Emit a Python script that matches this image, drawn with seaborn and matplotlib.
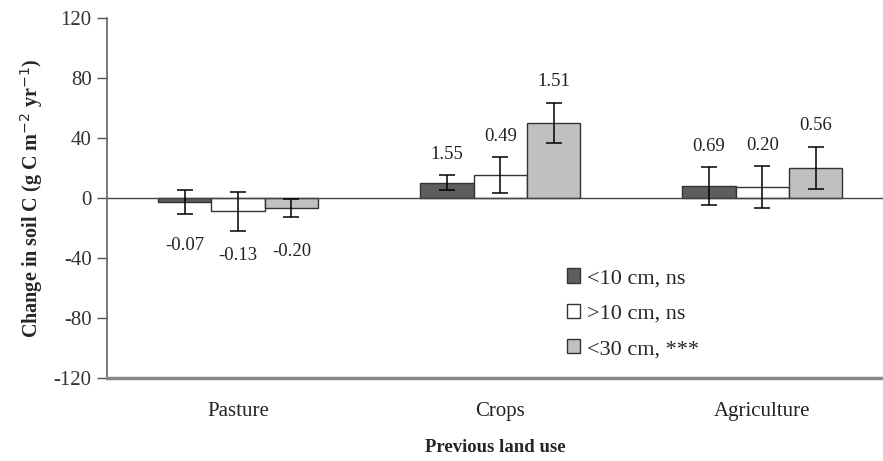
import matplotlib
matplotlib.use("Agg")
import matplotlib.pyplot as plt
import seaborn as sns
import pandas as pd
from matplotlib.patches import Patch
from matplotlib.container import BarContainer

categories = ["Pasture", "Crops", "Agriculture"]
series = ["<10 cm, ns", ">10 cm, ns", "<30 cm, ***"]
means_lt10 = [-3, 10, 8]
means_gt10 = [-9, 15, 7]
means_lt30 = [-7, 50, 20]
err_lt10 = [8, 5, 12.5]
err_gt10 = [13, 12, 14]
err_lt30 = [6, 13.5, 14]
labels_lt10 = ["-0.07", "1.55", "0.69"]
labels_gt10 = ["-0.13", "0.49", "0.20"]
labels_lt30 = ["-0.20", "1.51", "0.56"]
yticks = [-120, -80, -40, 0, 40, 80, 120]

means = [means_lt10, means_gt10, means_lt30]
errs = [err_lt10, err_gt10, err_lt30]
labels = [labels_lt10, labels_gt10, labels_lt30]
colors = ["#5e5e5e", "#ffffff", "#c0c0c0"]

rows = []
for s, m in zip(series, means):
    for c, v in zip(categories, m):
        rows.append({"land": c, "series": s, "value": v})
df = pd.DataFrame(rows)

sns.set_theme(style="white")
plt.rcParams["font.family"] = ["Liberation Serif", "DejaVu Serif"]
plt.rcParams["axes.unicode_minus"] = False

fig = plt.figure(figsize=(8.83, 4.61), dpi=100)
ax = fig.add_axes([107 / 883, 83 / 461, 776 / 883, 360 / 461])

sns.barplot(data=df, x="land", y="value", hue="series", order=categories,
            hue_order=series, palette=colors, width=0.61, gap=0,
            edgecolor="#333333", linewidth=1.0, errorbar=None, ax=ax,
            legend=False)

bar_conts = [c for c in ax.containers if isinstance(c, BarContainer)]
for i, cont in enumerate(bar_conts):
    for j, bar in enumerate(cont.patches):
        x = bar.get_x() + bar.get_width() / 2
        y = means[i][j]
        e = errs[i][j]
        ax.errorbar(x, y, yerr=e, color="black", capsize=6, elinewidth=1.1,
                    capthick=1.1, fmt="none", zorder=5)
        if y >= 0:
            ax.text(x, y + e + 14, labels[i][j], ha="center", va="center",
                    fontsize=13.5, color="#222222")
        else:
            ax.text(x, y - 29, labels[i][j], ha="center",
                    va="center", fontsize=13.5, color="#222222")

ax.axhline(0, color="#444444", lw=1.0, zorder=1)
ax.set_ylim(-120, 120)
ax.set_xlim(-0.5, 2.46)
ax.set_yticks(yticks)
ax.set_yticklabels([str(t) for t in yticks], fontsize=15, color="#333333")
ax.tick_params(axis="y", direction="out", length=7, width=1, color="#555555", pad=4, left=True)
ax.tick_params(axis="x", length=0, labelsize=15, pad=17, labelcolor="#222222")

for sp in ["top", "right"]:
    ax.spines[sp].set_visible(False)
ax.spines["left"].set_color("#666666")
ax.spines["left"].set_linewidth(1.2)
ax.spines["bottom"].set_color("#888888")
ax.spines["bottom"].set_linewidth(2.5)

ax.set_xlabel("Previous land use", fontsize=13.5, fontweight="bold", labelpad=13)
ax.set_ylabel("Change in soil C (g C m$^{-2}$ yr$^{-1}$)", fontsize=14.5,
              fontweight="bold", labelpad=6)

handles = [Patch(facecolor=c, edgecolor="#333333", lw=1.0) for c in colors]
ax.legend(handles, series, loc="upper left", bbox_to_anchor=(0.567, 0.36),
          frameon=False, fontsize=16, handlelength=0.6, handleheight=0.6,
          handletextpad=0.3, labelspacing=0.7)

fig.savefig("out.png", dpi=100)
